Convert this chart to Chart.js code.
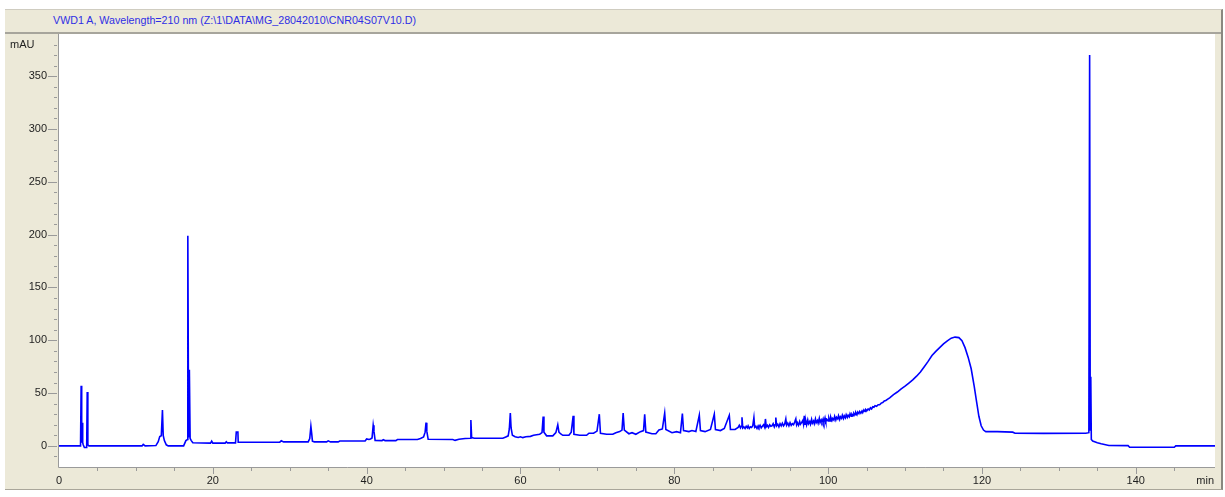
<!DOCTYPE html>
<html>
<head>
  <meta charset="UTF-8">
  <title>VWD1 A chromatogram</title>
  <script src="https://cdn.jsdelivr.net/npm/chart.js"></script>
  <style>
    body {
      margin: 0;
      background: #fff;
      font-family: "Liberation Sans", Arial, sans-serif;
    }

    #frame {
      position: absolute;
      left: 5px;
      top: 9px;
      width: 1216px;
      height: 479px;
      background: #ece9d8;
      border-top: 1px solid #cfccc0;
      border-right: 2px solid #8a8880;
      border-bottom: 1px solid #a9a69a;
    }

    #header {
      height: 22px;
      line-height: 20px;
      padding-left: 48px;
      font-size: 10.7px;
      color: #2f2fe4;
      border-bottom: 2px solid #a7a59c;
    }

    #plot {
      position: absolute;
      left: 5px;
      top: 34px;
    }
  </style>
</head>
<body>
  <div id="frame">
    <div id="header">VWD1 A, Wavelength=210 nm (Z:\1\DATA\MG_28042010\CNR04S07V10.D)</div>
  </div>
  <canvas id="plot" width="1216" height="455"></canvas>

  <script>
    // signal as [minutes, mAU] pairs, one array per part of the run
    const earlyPeaks = [
      [0, 0], [2.8, 0], [2.88, 57], [2.95, 3], [3.02, 22], [3.08, 3], [3.15, 1],
      [3.3, -1.5], [3.6, -1.5], [3.67, 51], [3.75, 1], [3.9, 0],
      [10.8, 0], [10.95, 1.5], [11.2, 0], [12.6, 0.3], [12.9, 4], [13.1, 8.8],
      [13.3, 9.5], [13.45, 34], [13.55, 10], [13.7, 5], [13.95, 1], [14.2, 0],
      [16.2, 0], [16.5, 5], [16.7, 6], [16.75, 199], [16.85, 8], [16.95, 72],
      [17.05, 7], [17.2, 5], [17.4, 3], [19.7, 2.6], [19.85, 4.5], [20.0, 2.6],
      [21.6, 2.6], [21.75, 4], [21.9, 2.8], [22.95, 2.8], [23.05, 13.2],
      [23.26, 13.2], [23.3, 3.5], [28.7, 3.6], [28.9, 4.8], [29.2, 3.8],
      [32.4, 3.8], [32.6, 7], [32.75, 18.5], [32.85, 12], [32.95, 4.5], [33.2, 3.8],
      [34.8, 3.8], [35.0, 4.8], [35.3, 3.8], [36.3, 3.8], [36.5, 4.6], [39.8, 4.6],
      [40.0, 6.5], [40.3, 6], [40.5, 6.5], [40.7, 7.5], [40.85, 19.5], [40.95, 14],
      [41.1, 5.2], [42.0, 5.0], [42.15, 5.8], [42.4, 5.0], [43.8, 5.0], [44.0, 6.0]
    ];

    const gradientPeaks = [
      [46.6, 6.0], [47.0, 7.0], [47.4, 8.5], [47.6, 13], [47.72, 22], [47.82, 14],
      [48.0, 6.2], [51.2, 6.0], [51.5, 5.2], [52.0, 6.2], [52.8, 7.0], [53.45, 7.2],
      [53.55, 24.5], [53.65, 7.8], [54.0, 7.2], [57.7, 7.2], [58.1, 8.5], [58.4, 9.5],
      [58.55, 16], [58.68, 31], [58.78, 17], [58.95, 10], [59.3, 8.6], [59.7, 8.0],
      [60.0, 8.6], [60.3, 7.8], [60.7, 8.6], [61.3, 9.0], [61.7, 10.0], [62.1, 10.5],
      [62.5, 11], [62.8, 12.5], [62.95, 27.7], [63.05, 13], [63.4, 9.5], [64.2, 9.5],
      [64.6, 12.5], [64.85, 20], [65.0, 13], [65.2, 11.5], [65.5, 10], [66.3, 10],
      [66.6, 13], [66.85, 28.5], [66.95, 11], [67.7, 10], [68.6, 10], [68.9, 12],
      [69.5, 12], [69.95, 14], [70.25, 30], [70.4, 12], [71.2, 11], [72.0, 11],
      [72.4, 12.5], [72.9, 13.5], [73.2, 15], [73.35, 31], [73.5, 15], [74.1, 11.5],
      [74.5, 12.5], [75.0, 11], [75.6, 13.5], [76.0, 14.5], [76.15, 30], [76.3, 13],
      [77.1, 11.5], [77.6, 11.5], [78.0, 15], [78.45, 16], [78.75, 31], [78.9, 15.5],
      [79.7, 12.5], [80.3, 13.5], [80.8, 12.5], [81.05, 30.5], [81.2, 14.5],
      [81.9, 13.5], [82.3, 14.5], [82.8, 13.5], [83.25, 29], [83.4, 14.5], [84.0, 13.5],
      [84.7, 15.5], [85.2, 30], [85.35, 15.5], [86.0, 14.5], [86.5, 16.5],
      [87.15, 29], [87.3, 15.5], [87.9, 15.5]
    ];

    const lateNoise = [
      [88.3, 17.5], [88.45, 19.5], [88.6, 17], [88.7, 18.5], [88.8, 27], [88.9, 17],
      [89.05, 18], [89.2, 16.5], [89.35, 18.5], [89.5, 17], [89.6, 19], [89.75, 16.5],
      [89.9, 18], [90.05, 17.5], [90.2, 19], [90.35, 26.8], [90.45, 17.5], [90.6, 18.5],
      [90.75, 16.5], [90.9, 19], [91.0, 17.5], [91.15, 19.5], [91.3, 17], [91.45, 18.5],
      [91.6, 20], [91.75, 17.5], [91.85, 25.5], [91.95, 18], [92.1, 19.5], [92.25, 17.5],
      [92.4, 20], [92.55, 18.5], [92.7, 19], [92.85, 21], [93.0, 18], [93.1, 20],
      [93.2, 26.8], [93.3, 19], [93.45, 20.5], [93.6, 18], [93.75, 21], [93.9, 19],
      [94.05, 21.5], [94.2, 19], [94.35, 20.5], [94.5, 25.5], [94.6, 19.5], [94.75, 21.5],
      [94.9, 19], [95.05, 22], [95.2, 19.5], [95.35, 21], [95.5, 20], [95.65, 22.5],
      [95.8, 25.5], [95.9, 20], [96.0, 22], [96.15, 19.5], [96.3, 23], [96.4, 20.5],
      [96.55, 22], [96.7, 24], [96.8, 20.5], [96.9, 28.4], [97.0, 20.5], [97.1, 23.5],
      [97.2, 20], [97.35, 24.5], [97.45, 21], [97.6, 23], [97.7, 20.5], [97.85, 25],
      [97.95, 21.5], [98.1, 23.5], [98.2, 21], [98.35, 25.5], [98.45, 22], [98.6, 24],
      [98.7, 21.5], [98.85, 26], [98.95, 22], [99.1, 24.5], [99.2, 22.5], [99.35, 25.5],
      [99.45, 22], [99.6, 26.5], [99.7, 23], [99.85, 25], [100.0, 23.5]
    ];

    const broadPeak = [
      [100.1, 26.5], [100.25, 23.5], [100.35, 27], [100.5, 24], [100.6, 26], [100.75, 24.5],
      [100.85, 28], [101.0, 24.5], [101.1, 27], [101.25, 25.5], [101.35, 28.5], [101.5, 25],
      [101.6, 27.5], [101.75, 26], [101.85, 29], [102.0, 26], [102.1, 28.5], [102.25, 26.5],
      [102.35, 29.5], [102.5, 27], [102.6, 29], [102.75, 27.5], [102.85, 30.5], [103.0, 28],
      [103.1, 30], [103.25, 28.5], [103.35, 31], [103.5, 29.5], [103.6, 31.5], [103.75, 29.5],
      [103.85, 32], [104.0, 30.5], [104.1, 32.5], [104.25, 31], [104.4, 33], [104.5, 31.5],
      [104.65, 34], [104.8, 32.5], [104.9, 34.5], [105.05, 33.5], [105.2, 35], [105.35, 34],
      [105.5, 36], [105.65, 35], [105.8, 37], [105.95, 36.5], [106.1, 38], [106.3, 37.5],
      [106.5, 39], [106.7, 39], [106.9, 40.5], [107.1, 41], [107.3, 42.5], [107.5, 43],
      [107.8, 44.5], [108.0, 45.5], [108.5, 48.5], [109.0, 51], [109.5, 54], [110.0, 56.5],
      [110.5, 59.5], [111.0, 62.5], [111.5, 66], [112.0, 70], [112.5, 75], [113.0, 80],
      [113.5, 85.5], [114.0, 89.5], [114.5, 93], [115.0, 96.5], [115.5, 99.5], [116.0, 102],
      [116.5, 103], [117.0, 102.5], [117.4, 99.5], [117.8, 93], [118.2, 84], [118.6, 73],
      [119.0, 56], [119.3, 42], [119.6, 28], [119.9, 19], [120.2, 15], [120.5, 13.5]
    ];

    const washout = [
      [122.0, 13.5], [124.0, 13], [124.3, 12], [128.0, 11.8], [133.5, 12], [133.9, 12.5],
      [134.0, 370], [134.08, 15], [134.15, 65.5], [134.22, 6], [134.4, 4.5], [135.0, 3],
      [135.5, 2], [136.5, 0.3], [139.0, 0.2], [139.2, -1.3], [145.0, -1.3], [145.2, 0],
      [150.3, 0]
    ];

    const xTicks = [0, 20, 40, 60, 80, 100, 120, 140];
    const yTicks = [0, 50, 100, 150, 200, 250, 300, 350];

    const signal = [...earlyPeaks, ...gradientPeaks, ...lateNoise, ...broadPeak, ...washout]
      .map(([x, y]) => ({ x, y }));

    const family = '"Liberation Sans", Arial, sans-serif';

    // white plot area, grey axis lines with major/minor ticks, unit labels
    const axisFrame = {
      id: 'axisFrame',
      beforeDraw(chart) {
        const { ctx, chartArea: a } = chart;
        ctx.save();
        ctx.fillStyle = '#ffffff';
        ctx.fillRect(a.left, a.top, a.right - a.left, a.bottom - a.top);
        ctx.restore();
      },
      afterDraw(chart) {
        const { ctx, chartArea: a, scales: { x, y } } = chart;
        ctx.save();
        ctx.strokeStyle = '#9a9a9a';
        ctx.lineWidth = 1;
        ctx.beginPath();
        ctx.moveTo(a.left - 0.5, a.top);
        ctx.lineTo(a.left - 0.5, a.bottom + 0.5);
        ctx.lineTo(a.right, a.bottom + 0.5);
        for (let v = -10; v <= 380; v += 10) {
          const py = Math.round(y.getPixelForValue(v)) + 0.5;
          const major = yTicks.includes(v);
          ctx.moveTo(a.left - (major ? 11 : 5), py);
          ctx.lineTo(a.left - 2, py);
        }
        for (let v = 5; v <= 145; v += 5) {
          const px = Math.round(x.getPixelForValue(v)) + 0.5;
          const major = xTicks.includes(v);
          ctx.moveTo(px, a.bottom + 1);
          ctx.lineTo(px, a.bottom + (major ? 7 : 4));
        }
        ctx.stroke();

        ctx.fillStyle = '#1e1e1e';
        ctx.font = '11px ' + family;
        ctx.textBaseline = 'middle';
        ctx.textAlign = 'left';
        ctx.fillText('mAU', 5, y.getPixelForValue(380));
        ctx.textAlign = 'right';
        ctx.fillText('min', a.right - 1, a.bottom + 14);
        ctx.restore();
      }
    };

    new Chart(document.getElementById('plot'), {
      type: 'line',
      data: {
        datasets: [{
          data: signal,
          borderColor: '#0000ff',
          borderWidth: 1.6,
          pointRadius: 0,
          tension: 0,
          fill: false
        }]
      },
      options: {
        responsive: false,
        animation: false,
        layout: { padding: { left: 0, right: 6, top: 0, bottom: 0 } },
        plugins: {
          legend: { display: false },
          tooltip: { enabled: false }
        },
        scales: {
          x: {
            type: 'linear',
            min: 0,
            max: 150.3,
            // tick marks are drawn by axisFrame; tickLength only spaces the labels
            grid: { display: false, drawTicks: true, tickLength: 7 },
            border: { display: false },
            ticks: { color: '#1e1e1e', font: { family, size: 11 }, padding: 0, maxRotation: 0 },
            afterBuildTicks: scale => { scale.ticks = xTicks.map(value => ({ value })); },
            afterFit: scale => { scale.height = 22; }
          },
          y: {
            type: 'linear',
            min: -20,
            max: 390,
            grid: { display: false, drawTicks: true, tickLength: 12 },
            border: { display: false },
            ticks: { color: '#1e1e1e', font: { family, size: 11, lineHeight: 0 }, padding: 0 },
            afterBuildTicks: scale => { scale.ticks = yTicks.map(value => ({ value })); },
            afterFit: scale => { scale.width = 54; }
          }
        }
      },
      plugins: [axisFrame]
    });
  </script>
</body>
</html>
